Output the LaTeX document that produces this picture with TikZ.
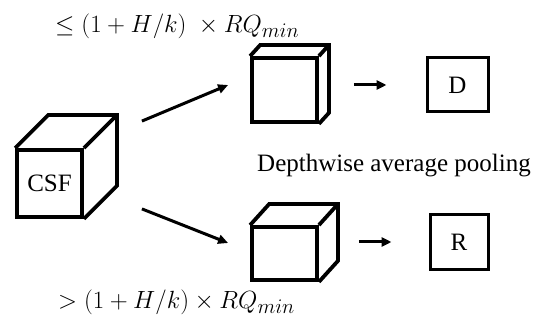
\documentclass[tikz,border=0pt]{standalone}
\usepackage{fontspec}
\setmainfont{Liberation Serif}
\usepackage{tikz}
\usetikzlibrary{positioning, arrows.meta, calc}

% side and top faces of a cube drawn behind a front face node
\newcommand{\cubesides}[3]{%
  \draw[edge] (#1.north west) -- ++(#2,#3)
    -- ([shift={(#2,#3)}]#1.north east)
    -- ([shift={(#2,#3)}]#1.south east) -- (#1.south east);
  \draw[edge] (#1.north east) -- ++(#2,#3);
}

\begin{document}
\begin{tikzpicture}[
  x=1pt, y=-1pt,
  edge/.style={line width=3.8pt, line join=miter},
  front/.style={
    rectangle, draw, edge, inner sep=0pt,
    minimum width=65pt, minimum height=#1,
    font=\fontsize{25}{30}\selectfont
  },
  outbox/.style={
    rectangle, draw, line width=3pt, inner sep=0pt,
    minimum height=54pt, font=\fontsize{25}{30}\selectfont
  },
  arr/.style={-{Triangle[length=10pt,width=9pt]}, line width=3pt},
  txt/.style={font=\fontsize{25}{30}\selectfont, inner sep=0pt},
  cond/.style={font=\fontsize{29}{34}\selectfont, inner sep=0pt},
]
\useasboundingbox (0,0) rectangle (543,320);

% CSF cube
\node[front=67pt] (csf) at (49.5,183.5) {CSF};
\cubesides{csf}{33}{-33}

% Upper branch
\node[front=64pt] (cubeD) at (284.5,90) {};
\cubesides{cubeD}{10}{-11}
\node[outbox, minimum width=61pt] (boxD) at (457.5,85) {D};

% Lower branch
\node[front=53pt] (cubeR) at (284.5,253.5) {};
\cubesides{cubeR}{19}{-21}
\node[outbox, minimum width=58pt] (boxR) at (459,242) {R};

% Arrows
\coordinate (splitD) at ($(csf.north east)+(58,-27)$);
\coordinate (splitR) at ($(csf.south east)+(58,-10)$);
\coordinate (endD) at ($(cubeD.west)+(-22,-5)$);
\coordinate (endR) at ($(cubeR.west)+(-22,-10.5)$);
\draw[arr] (splitD) -- (endD);
\draw[arr] (splitR) -- (endR);
\draw[arr, shorten <=35pt, shorten >=39pt] (cubeD.east |- boxD) -- (boxD);
\draw[arr, shorten <=40pt, shorten >=37pt] (cubeR.east |- boxR) -- (boxR.west);

% Labels
\node[txt, anchor=base west] (pool) at (257,172) {Depthwise average pooling};
\node[cond, anchor=west] (condD) at (55,26)
  {$\leq(1+H/k)\;\times RQ_{min}$};
\node[cond, anchor=west] (condR) at (58,302)
  {$>(1+H/k)\times RQ_{min}$};

\end{tikzpicture}
\end{document}
